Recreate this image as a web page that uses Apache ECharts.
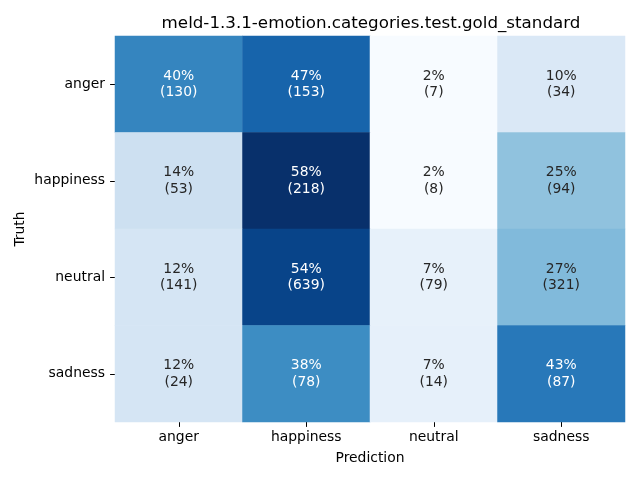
<!DOCTYPE html>
<html>
<head>
<meta charset="utf-8">
<script src="https://cdn.jsdelivr.net/npm/echarts@6/dist/echarts.min.js"></script>
<style>html,body{margin:0;padding:0;background:#fff}#c{width:640px;height:480px}</style>
</head>
<body>
<div id="c"></div>
<script>
const title = 'meld-1.3.1-emotion.categories.test.gold_standard';
const predCats = ['anger', 'happiness', 'neutral', 'sadness'];
const truthCats = ['anger', 'happiness', 'neutral', 'sadness'];
const countsAnger = [130, 153, 7, 34];
const countsHappiness = [53, 218, 8, 94];
const countsNeutral = [141, 639, 79, 321];
const countsSadness = [24, 78, 14, 87];
const counts = [countsAnger, countsHappiness, countsNeutral, countsSadness];

const blues = ['#f7fbff','#deebf7','#c6dbef','#9ecae1','#6baed6','#4292c6','#2171b5','#08519c','#08306b'];
function hex2rgb(h){return [parseInt(h.substr(1,2),16),parseInt(h.substr(3,2),16),parseInt(h.substr(5,2),16)];}
function cmap(t){
  t = Math.max(0, Math.min(1, t));
  const p = t * (blues.length - 1);
  const i = Math.min(Math.floor(p), blues.length - 2);
  const f = p - i;
  const a = hex2rgb(blues[i]), b = hex2rgb(blues[i+1]);
  return a.map((v,k)=>v + (b[k]-v)*f);
}
function lum(rgb){
  const c = rgb.map(v=>{v/=255; return v<=0.03928 ? v/12.92 : Math.pow((v+0.055)/1.055, 2.4);});
  return 0.2126*c[0] + 0.7152*c[1] + 0.0722*c[2];
}

const fracs = counts.map(r => { const s = r.reduce((a,b)=>a+b,0); return r.map(v => v / s); });
let vmin = Infinity, vmax = -Infinity;
fracs.forEach(r => r.forEach(v => { vmin = Math.min(vmin, v); vmax = Math.max(vmax, v); }));

const data = [];
for (let r = 0; r < truthCats.length; r++) {
  for (let c = 0; c < predCats.length; c++) {
    const f = fracs[r][c];
    const rgb = cmap((f - vmin) / (vmax - vmin));
    const col = 'rgb(' + rgb.map(Math.round).join(',') + ')';
    data.push({
      value: [c, r, f],
      itemStyle: { color: col },
      label: { color: lum(rgb) > 0.408 ? '#262626' : '#ffffff' },
      pct: Math.round(f * 100) + '%',
      cnt: '(' + counts[r][c] + ')'
    });
  }
}

const chart = echarts.init(document.getElementById('c'), null, { renderer: 'canvas' });
chart.setOption({
  animation: false,
  backgroundColor: '#ffffff',
  textStyle: { fontFamily: 'DejaVu Sans' },
  title: {
    text: title, left: 366, top: 10, textAlign: 'center',
    textStyle: { fontFamily: 'DejaVu Sans', fontSize: 16.7, fontWeight: 'normal', color: '#000' }
  },
  grid: { left: 115, right: 15, top: 36, bottom: 58 },
  xAxis: {
    type: 'category', data: predCats,
    name: 'Prediction', nameLocation: 'middle', nameGap: 29,
    nameTextStyle: { fontFamily: 'DejaVu Sans', fontSize: 13.9, color: '#000' },
    axisLine: { show: false },
    axisTick: { show: true, alignWithLabel: true, length: 4.9, lineStyle: { color: '#000', width: 1 } },
    axisLabel: { fontFamily: 'DejaVu Sans', fontSize: 13.9, color: '#000', margin: 8 },
    splitLine: { show: false }
  },
  yAxis: {
    type: 'category', data: truthCats, inverse: true,
    name: 'Truth', nameLocation: 'middle', nameGap: 88, nameRotate: 90,
    nameMoveOverlap: false,
    nameTextStyle: { fontFamily: 'DejaVu Sans', fontSize: 13.9, color: '#000' },
    axisLine: { show: false },
    axisTick: { show: true, alignWithLabel: true, length: 4.9, lineStyle: { color: '#000', width: 1 } },
    axisLabel: { fontFamily: 'DejaVu Sans', fontSize: 13.9, color: '#000', margin: 10 },
    splitLine: { show: false }
  },
  series: [{
    type: 'heatmap',
    data: data,
    label: {
      show: true, fontFamily: 'DejaVu Sans', fontSize: 13.9, lineHeight: 16.5,
      formatter: p => p.data.pct + '\n' + p.data.cnt
    },
    itemStyle: { borderWidth: 0 },
    emphasis: { disabled: true }
  }]
});
</script>
</body>
</html>
